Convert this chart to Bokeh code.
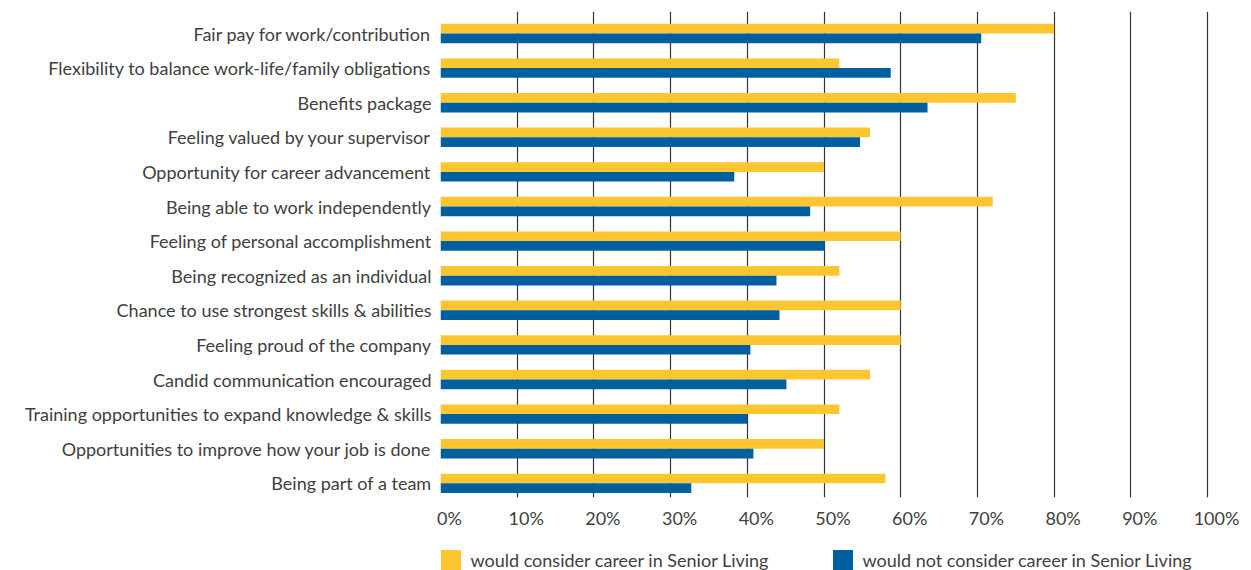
from bokeh.plotting import figure
from bokeh.models import Range1d, FixedTicker, LinearAxis, Legend, LegendItem, ColumnDataSource
from bokeh.layouts import column
from bokeh.embed import file_html
from bokeh.resources import INLINE

categories = [
    "Fair pay for work/contribution",
    "Flexibility to balance work-life/family obligations",
    "Benefits package",
    "Feeling valued by your supervisor",
    "Opportunity for career advancement",
    "Being able to work independently",
    "Feeling of personal accomplishment",
    "Being recognized as an individual",
    "Chance to use strongest skills & abilities",
    "Feeling proud of the company",
    "Candid communication encouraged",
    "Training opportunities to expand knowledge & skills",
    "Opportunities to improve how your job is done",
    "Being part of a team",
]
consider = [80, 52, 75, 56, 50, 72, 60, 52, 60, 60, 56, 52, 50, 58]
not_consider = [70.5, 58.7, 63.5, 54.7, 38.3, 48.2, 50.1, 43.8, 44.2, 40.4, 45.1, 40.0, 40.8, 32.7]
x_ticks = [0, 10, 20, 30, 40, 50, 60, 70, 80, 90, 100]
x_tick_labels = ["0%", "10%", "20%", "30%", "40%", "50%", "60%", "70%", "80%", "90%", "100%"]
series_names = ["would consider career in Senior Living", "would not consider career in Senior Living"]

YELLOW = "#FDC52F"
BLUE = "#00609F"
TEXT = "#404040"
FONT = "Lato"
FS = "18px"

idx = list(range(len(categories)))
bh = 0.28
src = ColumnDataSource(dict(
    y1=[i - bh / 2 for i in idx], y2=[i + bh / 2 for i in idx],
    v1=consider, v2=not_consider,
))

px_per = 7.67
x_end = 800 / px_per
p = figure(width=1251, height=548, output_backend="svg", toolbar_location=None,
           x_range=Range1d(0, x_end), y_range=Range1d(13.41, -0.636),
           min_border_left=440, min_border_right=11, min_border_top=11, min_border_bottom=51)
p.outline_line_color = None
p.background_fill_color = "white"
p.border_fill_color = "white"

p.hbar(y="y1", right="v1", left=0, height=bh, fill_color=YELLOW, line_color=None, source=src)
p.hbar(y="y2", right="v2", left=0, height=bh, fill_color=BLUE, line_color=None, source=src)

# grid
p.xgrid.ticker = FixedTicker(ticks=x_ticks)
p.xgrid.grid_line_color = "#333333"
p.xgrid.grid_line_width = 1.2
p.ygrid.grid_line_color = None

# hide main x axis, add label axis shifted slightly right (as in the original)
p.xaxis.visible = False
shift = 9 / px_per
p.extra_x_ranges = {"lab": Range1d(-shift, x_end - shift)}
xa = LinearAxis(x_range_name="lab", ticker=FixedTicker(ticks=x_ticks),
                major_label_overrides={t: l for t, l in zip(x_ticks, x_tick_labels)})
xa.axis_line_color = None
xa.major_tick_line_color = None
xa.minor_tick_line_color = None
xa.major_tick_out = 0
xa.major_tick_in = 0
xa.major_label_standoff = 9
xa.major_label_text_font = FONT
xa.major_label_text_font_size = FS
xa.major_label_text_color = TEXT
p.add_layout(xa, "below")

ya = p.yaxis[0]
ya.ticker = FixedTicker(ticks=idx)
ya.major_label_overrides = {i: c for i, c in zip(idx, categories)}
ya.axis_line_color = None
ya.major_tick_line_color = None
ya.minor_tick_line_color = None
ya.major_tick_out = 0
ya.major_tick_in = 0
ya.major_label_standoff = 9
ya.major_label_text_font = FONT
ya.major_label_text_font_size = FS
ya.major_label_text_color = TEXT

# legend strip below the chart (its frame is aligned with the chart frame by the column layout)
lg_fig = figure(width=1251, height=22, output_backend="svg", toolbar_location=None,
                x_range=Range1d(0, 1), y_range=Range1d(0, 1),
                min_border=0, min_border_left=0, min_border_right=0,
                min_border_top=0, min_border_bottom=0)
lg_fig.outline_line_color = None
lg_fig.border_fill_color = "white"
lg_fig.axis.visible = False
lg_fig.grid.visible = False
# legend-only renderers with zero width, placed outside the visible range
d1 = lg_fig.hbar(y=[-100], right=[0], left=0, height=1, fill_color=YELLOW, line_color=None)
d2 = lg_fig.hbar(y=[-100], right=[0], left=0, height=1, fill_color=BLUE, line_color=None)

for r, name, xloc in [(d1, series_names[0], -2.5), (d2, series_names[1], 389.5)]:
    lg = Legend(items=[LegendItem(label=name, renderers=[r])], location=(xloc, -2),
                orientation="horizontal", glyph_width=25, glyph_height=25,
                label_standoff=8, padding=0, margin=0, spacing=0,
                border_line_color=None, background_fill_alpha=0,
                label_text_font=FONT, label_text_font_size=FS,
                label_text_color=TEXT, label_height=25)
    lg_fig.add_layout(lg)

layout = column(p, lg_fig, spacing=0)
open("out.html", "w").write(file_html(layout, INLINE))
